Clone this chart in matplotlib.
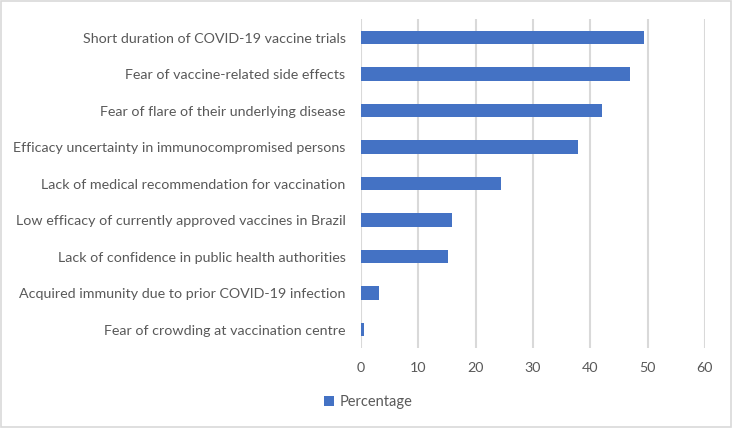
import matplotlib
matplotlib.use("Agg")
from matplotlib import pyplot as plt
from matplotlib.patches import Rectangle

# reasons for vaccine hesitancy, top to bottom as in the chart
reasons = [
    "Short duration of COVID-19 vaccine trials",
    "Fear of vaccine-related side effects",
    "Fear of flare of their underlying disease",
    "Efficacy uncertainty in immunocompromised persons",
    "Lack of medical recommendation for vaccination",
    "Low efficacy of currently approved vaccines in Brazil",
    "Lack of confidence in public health authorities",
    "Acquired immunity due to prior COVID-19 infection",
    "Fear of crowding at vaccination centre",
]
percentage = [49.4, 46.9, 42.1, 37.8, 24.4, 15.9, 15.2, 3.1, 0.6]
x_ticks = [0, 10, 20, 30, 40, 50, 60]

BAR_COLOR = "#4472C4"
TEXT_COLOR = "#595959"
GRID_COLOR = "#D9D9D9"

plt.rcParams['font.family'] = ['Lato', 'DejaVu Sans']

fig = plt.figure(figsize=(7.32, 4.28), dpi=100)
ax = fig.add_axes([0.493, 0.1875, 0.470, 0.7675])

pos = list(range(len(reasons)))[::-1]
ax.barh(pos, percentage, height=0.36, color=BAR_COLOR, label="Percentage", zorder=3)

ax.set_xlim(0, 60)
ax.set_ylim(-0.5, len(reasons) - 0.5)
ax.set_xticks(x_ticks)
ax.set_yticks(pos)
ax.set_yticklabels(reasons)
ax.tick_params(axis='both', length=0, colors=TEXT_COLOR, labelsize=10.3)
ax.tick_params(axis='y', pad=11)
ax.tick_params(axis='x', pad=10)
ax.grid(axis='x', color=GRID_COLOR, linewidth=1.5, zorder=0)
for s in ax.spines.values():
    s.set_visible(False)

leg = fig.legend(loc='center', bbox_to_anchor=(0.503, 0.06), frameon=False,
                 handlelength=0.7, handleheight=0.7, handletextpad=0.4,
                 fontsize=10.5, labelcolor=TEXT_COLOR)

# light border round the chart
fig.patches.append(Rectangle((0.002, 0.003), 0.996, 0.994, transform=fig.transFigure,
                             fill=False, edgecolor=GRID_COLOR, linewidth=1.2))

fig.savefig("out.png", dpi=100)
